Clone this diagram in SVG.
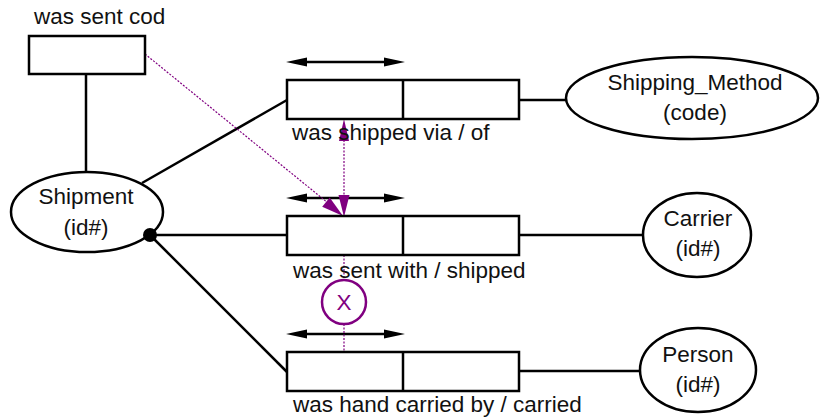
<svg xmlns="http://www.w3.org/2000/svg" width="821" height="419" viewBox="0 0 821 419">
<style>
.t{font-family:"Liberation Sans",Arial,sans-serif;font-size:22.5px;fill:#111}
.c{text-anchor:middle}
.sh{fill:#fff;stroke:#000;stroke-width:2.5}
.ln{stroke:#000;stroke-width:2.5;fill:none}
.pd{stroke:#800080;stroke-width:1.2;stroke-dasharray:2,1.5;fill:none}
.pf{fill:#800080}
.ah{fill:#000}
</style>
<rect width="821" height="419" fill="#fff"/>
<g id="connectors">
<line class="ln" x1="86" y1="74" x2="86" y2="172"/>
<line class="ln" x1="142" y1="183" x2="287" y2="100"/>
<line class="ln" x1="150" y1="235" x2="287" y2="235"/>
<line class="ln" x1="150" y1="235" x2="287" y2="372"/>
<line class="ln" x1="519" y1="100" x2="566" y2="100"/>
<line class="ln" x1="519" y1="235" x2="643" y2="235"/>
<line class="ln" x1="519" y1="371" x2="640" y2="371"/>
<g id="size-arrows">
<line class="ln" x1="300" y1="62" x2="392" y2="62"/>
<polygon class="ah" points="286,62 307,57.5 307,66.5"/>
<polygon class="ah" points="405,62 384,57.5 384,66.5"/>
<line class="ln" x1="300" y1="198" x2="392" y2="198"/>
<polygon class="ah" points="286,198 307,193.5 307,202.5"/>
<polygon class="ah" points="405,198 384,193.5 384,202.5"/>
<line class="ln" x1="300" y1="334" x2="392" y2="334"/>
<polygon class="ah" points="286,334 307,329.5 307,338.5"/>
<polygon class="ah" points="405,334 384,329.5 384,338.5"/>
</g>
<g id="purple">
<line class="pd" x1="145" y1="54" x2="328" y2="203"/>
<polygon class="pf" points="343,216 322.2,206.8 329.7,197.5"/>
<line class="pd" x1="344" y1="140" x2="344" y2="196"/>
<polygon class="pf" points="344,119 339,141 349,141"/>
<polygon class="pf" points="344,217 338.5,195 349.5,195"/>
<line class="pd" x1="344" y1="255" x2="344" y2="280"/>
<line class="pd" x1="344" y1="324" x2="344" y2="352"/>
</g>
</g>
<g id="cod-box">
<rect class="sh" x="29" y="36" width="116" height="38"/>
<text class="t" x="34" y="24">was sent cod</text>
</g>
<g id="shipment">
<ellipse class="sh" cx="87" cy="212" rx="76" ry="40"/>
<text class="t c" x="86" y="204">Shipment</text>
<text class="t c" x="86" y="235">(id#)</text>
<circle cx="150" cy="235" r="7" fill="#000"/>
</g>
<g id="rel-shipped-via">
<rect class="sh" x="287" y="80" width="232" height="39"/>
<line class="ln" x1="403" y1="80" x2="403" y2="119"/>
<text class="t" x="292" y="140">was shipped via / of</text>
</g>
<g id="rel-sent-with">
<rect class="sh" x="287" y="216" width="232" height="39"/>
<line class="ln" x1="403" y1="216" x2="403" y2="255"/>
<text class="t" x="293" y="278">was sent with / shipped</text>
</g>
<g id="rel-hand-carried">
<rect class="sh" x="287" y="352" width="232" height="39"/>
<line class="ln" x1="403" y1="352" x2="403" y2="391"/>
<text class="t" x="293" y="412">was hand carried by / carried</text>
</g>
<g id="arc-x">
<circle cx="344" cy="302" r="22" fill="#fff" stroke="#800080" stroke-width="2.5"/>
<text class="t c" x="344" y="310" style="fill:#800080">X</text>
</g>
<g id="shipping-method">
<ellipse class="sh" cx="692" cy="98" rx="126" ry="41"/>
<text class="t c" x="695" y="90">Shipping_Method</text>
<text class="t c" x="695" y="120">(code)</text>
</g>
<g id="carrier">
<ellipse class="sh" cx="697" cy="235" rx="54" ry="42"/>
<text class="t c" x="698" y="226">Carrier</text>
<text class="t c" x="698" y="256">(id#)</text>
</g>
<g id="person">
<ellipse class="sh" cx="698" cy="370" rx="58" ry="42"/>
<text class="t c" x="698" y="362">Person</text>
<text class="t c" x="698" y="392">(id#)</text>
</g>
</svg>
